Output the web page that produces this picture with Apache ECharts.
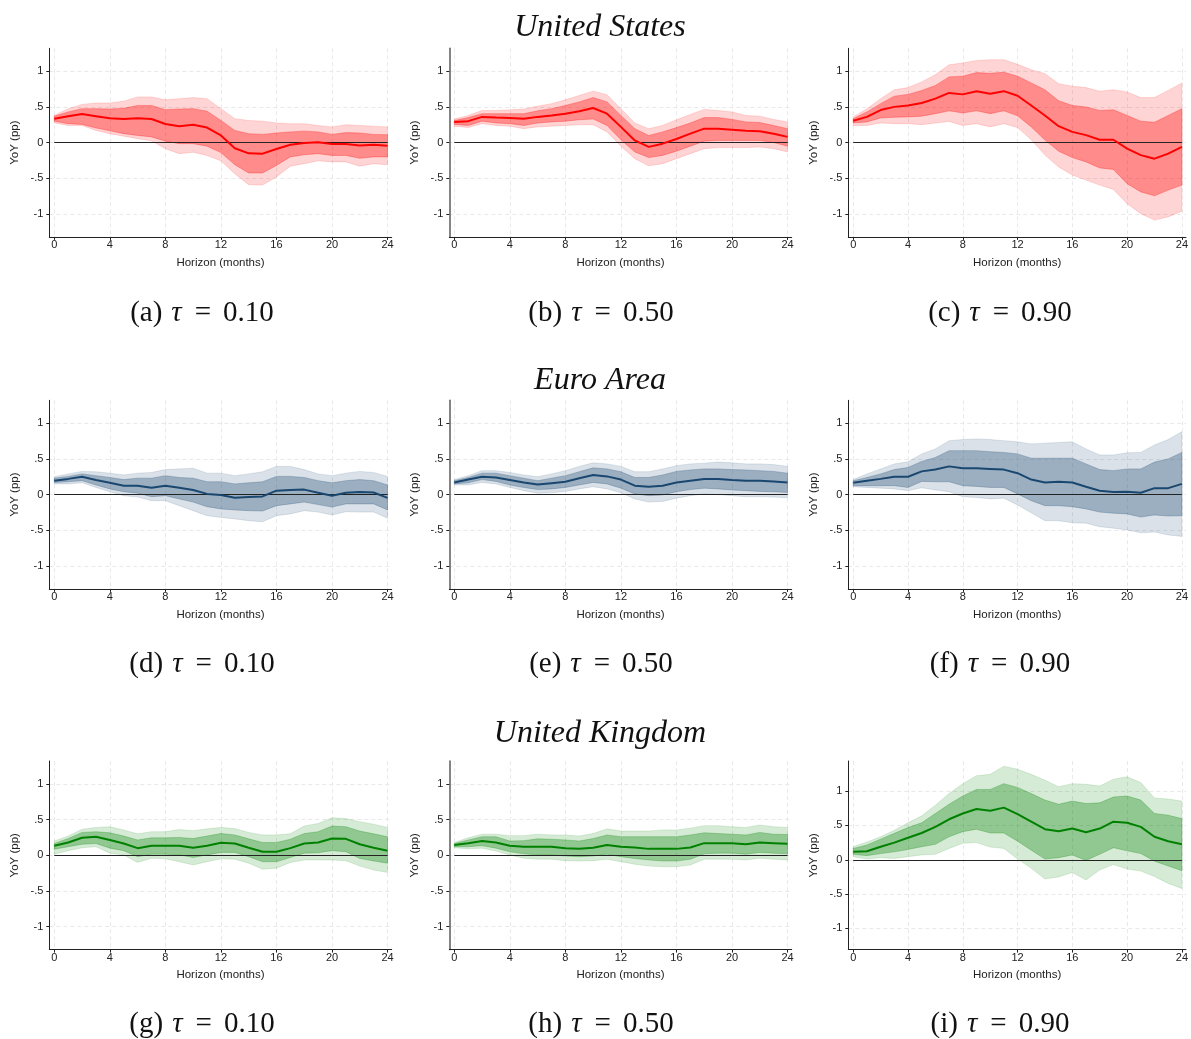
<!DOCTYPE html>
<html><head><meta charset="utf-8">
<script src="https://cdn.jsdelivr.net/npm/echarts@6/dist/echarts.min.js"></script>
<style>html,body{margin:0;padding:0;background:#fff}#c{width:1191px;height:1039px}</style>
</head><body><div id="c"></div>
<script>
// ---------- data ----------
const horizon = [0,1,2,3,4,5,6,7,8,9,10,11,12,13,14,15,16,17,18,19,20,21,22,23,24];
const xTicks = [0,4,8,12,16,20,24];
const yTicks = [-1,-0.5,0,0.5,1];
const yTickLabels = ['-1','-.5','0','.5','1'];
const countryTitles = ['United States','Euro Area','United Kingdom'];
const panelLetters = ['a','b','c','d','e','f','g','h','i'];
const quantileLabels = ['0.10','0.50','0.90'];

// United States
const us10_mean   = [0.335,0.37,0.40,0.37,0.34,0.33,0.34,0.33,0.26,0.23,0.25,0.21,0.10,-0.08,-0.15,-0.155,-0.09,-0.03,-0.005,0.005,-0.02,-0.02,-0.04,-0.03,-0.045];
const us10_innerHi= [0.37,0.43,0.475,0.475,0.47,0.48,0.52,0.52,0.46,0.47,0.475,0.44,0.31,0.17,0.125,0.115,0.135,0.15,0.16,0.15,0.115,0.14,0.135,0.115,0.11];
const us10_innerLo= [0.30,0.265,0.255,0.205,0.165,0.125,0.10,0.08,0.02,-0.015,-0.015,-0.05,-0.14,-0.31,-0.425,-0.425,-0.32,-0.20,-0.17,-0.155,-0.18,-0.18,-0.22,-0.20,-0.20];
const us10_outerHi= [0.38,0.475,0.535,0.555,0.555,0.58,0.64,0.64,0.60,0.615,0.63,0.615,0.475,0.335,0.31,0.30,0.275,0.265,0.265,0.24,0.22,0.25,0.24,0.23,0.22];
const us10_outerLo= [0.275,0.24,0.24,0.17,0.125,0.09,0.055,0.025,-0.085,-0.155,-0.135,-0.18,-0.255,-0.435,-0.59,-0.595,-0.48,-0.33,-0.295,-0.255,-0.27,-0.27,-0.33,-0.295,-0.31];

const us50_mean   = [0.29,0.30,0.36,0.35,0.345,0.335,0.36,0.38,0.405,0.44,0.485,0.405,0.22,0.03,-0.06,-0.015,0.05,0.125,0.195,0.195,0.18,0.165,0.16,0.125,0.08];
const us50_innerHi= [0.31,0.35,0.405,0.405,0.405,0.405,0.445,0.475,0.52,0.57,0.63,0.57,0.38,0.195,0.10,0.15,0.21,0.275,0.35,0.35,0.325,0.29,0.28,0.24,0.195];
const us50_innerLo= [0.255,0.24,0.30,0.275,0.265,0.24,0.275,0.29,0.30,0.32,0.33,0.24,0.04,-0.13,-0.21,-0.18,-0.12,-0.05,0.02,0.03,0.03,0.03,0.03,0.0,-0.05];
const us50_outerHi= [0.33,0.38,0.45,0.45,0.46,0.47,0.51,0.545,0.60,0.66,0.72,0.67,0.475,0.275,0.195,0.24,0.32,0.395,0.465,0.45,0.43,0.38,0.37,0.325,0.29];
const us50_outerLo= [0.23,0.21,0.265,0.24,0.23,0.195,0.22,0.23,0.24,0.25,0.25,0.15,-0.05,-0.225,-0.325,-0.295,-0.225,-0.155,-0.085,-0.07,-0.07,-0.07,-0.06,-0.085,-0.13];

const us90_mean   = [0.305,0.36,0.455,0.50,0.52,0.555,0.615,0.695,0.675,0.72,0.685,0.72,0.655,0.52,0.38,0.23,0.15,0.105,0.04,0.04,-0.085,-0.175,-0.225,-0.155,-0.06];
const us90_innerHi= [0.335,0.43,0.545,0.65,0.675,0.73,0.80,0.92,0.93,0.98,0.97,0.985,0.93,0.835,0.74,0.585,0.52,0.50,0.45,0.46,0.38,0.30,0.285,0.38,0.475];
const us90_innerLo= [0.275,0.29,0.345,0.355,0.36,0.37,0.405,0.445,0.415,0.445,0.405,0.445,0.375,0.22,0.035,-0.12,-0.21,-0.27,-0.355,-0.375,-0.575,-0.69,-0.745,-0.665,-0.595];
const us90_outerHi= [0.36,0.475,0.615,0.74,0.77,0.85,0.95,1.09,1.115,1.15,1.16,1.16,1.095,1.02,0.965,0.825,0.79,0.77,0.72,0.74,0.71,0.63,0.63,0.73,0.835];
const us90_outerLo= [0.24,0.24,0.275,0.265,0.265,0.25,0.275,0.295,0.24,0.265,0.22,0.265,0.21,0.04,-0.175,-0.34,-0.455,-0.525,-0.595,-0.655,-0.855,-0.995,-1.085,-1.04,-0.96];

// Euro Area
const ea10_mean   = [0.195,0.22,0.25,0.205,0.165,0.125,0.125,0.095,0.125,0.095,0.065,0.01,-0.005,-0.045,-0.035,-0.025,0.055,0.065,0.07,0.025,-0.015,0.025,0.035,0.03,-0.045];
const ea10_innerHi= [0.23,0.255,0.29,0.265,0.24,0.21,0.23,0.23,0.265,0.24,0.23,0.18,0.18,0.15,0.165,0.18,0.255,0.255,0.24,0.195,0.165,0.195,0.21,0.195,0.135];
const ea10_innerLo= [0.17,0.18,0.195,0.135,0.08,0.04,0.02,-0.03,-0.015,-0.06,-0.105,-0.17,-0.20,-0.215,-0.225,-0.23,-0.155,-0.13,-0.105,-0.14,-0.175,-0.13,-0.13,-0.13,-0.215];
const ea10_outerHi= [0.25,0.29,0.325,0.32,0.30,0.275,0.30,0.31,0.35,0.36,0.37,0.30,0.30,0.265,0.29,0.32,0.395,0.395,0.35,0.29,0.265,0.30,0.325,0.31,0.255];
const ea10_outerLo= [0.15,0.15,0.165,0.10,0.04,-0.015,-0.035,-0.085,-0.085,-0.155,-0.225,-0.295,-0.32,-0.34,-0.365,-0.38,-0.295,-0.27,-0.225,-0.245,-0.285,-0.24,-0.245,-0.245,-0.33];

const ea50_mean   = [0.17,0.21,0.25,0.24,0.205,0.17,0.14,0.16,0.18,0.23,0.275,0.255,0.21,0.125,0.11,0.125,0.17,0.195,0.22,0.22,0.205,0.195,0.195,0.185,0.17];
const ea50_innerHi= [0.195,0.24,0.30,0.30,0.265,0.23,0.195,0.23,0.265,0.32,0.375,0.36,0.32,0.24,0.24,0.275,0.325,0.345,0.36,0.36,0.35,0.345,0.335,0.325,0.30];
const ea50_innerLo= [0.15,0.165,0.21,0.185,0.135,0.10,0.07,0.08,0.10,0.135,0.17,0.15,0.09,0.01,-0.015,-0.005,0.04,0.07,0.09,0.08,0.065,0.055,0.045,0.04,0.03];
const ea50_outerHi= [0.21,0.265,0.335,0.335,0.31,0.275,0.25,0.29,0.335,0.395,0.445,0.43,0.395,0.32,0.32,0.36,0.405,0.43,0.44,0.455,0.445,0.43,0.43,0.42,0.395];
const ea50_outerLo= [0.135,0.135,0.17,0.15,0.10,0.055,0.02,0.025,0.045,0.08,0.11,0.08,0.025,-0.06,-0.105,-0.095,-0.05,-0.015,0.01,0.0,-0.015,-0.03,-0.03,-0.035,-0.045];

const ea90_mean   = [0.165,0.195,0.22,0.25,0.25,0.325,0.35,0.395,0.37,0.37,0.36,0.35,0.30,0.21,0.17,0.18,0.17,0.11,0.055,0.035,0.04,0.025,0.09,0.09,0.15];
const ea90_innerHi= [0.195,0.24,0.29,0.35,0.38,0.465,0.52,0.615,0.615,0.615,0.60,0.59,0.57,0.51,0.51,0.51,0.51,0.43,0.35,0.335,0.36,0.36,0.455,0.50,0.59];
const ea90_innerLo= [0.125,0.125,0.125,0.125,0.10,0.185,0.18,0.18,0.125,0.115,0.10,0.10,0.01,-0.085,-0.155,-0.155,-0.17,-0.20,-0.245,-0.26,-0.27,-0.315,-0.285,-0.30,-0.295];
const ea90_outerHi= [0.21,0.29,0.36,0.43,0.46,0.57,0.64,0.755,0.77,0.78,0.77,0.755,0.74,0.71,0.72,0.73,0.74,0.64,0.555,0.555,0.585,0.59,0.695,0.77,0.88];
const ea90_outerLo= [0.11,0.10,0.09,0.08,0.055,0.095,0.065,0.04,-0.03,-0.04,-0.06,-0.05,-0.145,-0.255,-0.365,-0.365,-0.395,-0.40,-0.45,-0.47,-0.495,-0.535,-0.525,-0.565,-0.585];

// United Kingdom
const uk10_mean   = [0.135,0.18,0.245,0.26,0.215,0.165,0.10,0.135,0.135,0.135,0.105,0.135,0.175,0.165,0.105,0.05,0.05,0.10,0.165,0.18,0.235,0.23,0.155,0.105,0.065];
const uk10_innerHi= [0.165,0.235,0.32,0.33,0.315,0.27,0.215,0.245,0.245,0.25,0.235,0.27,0.305,0.285,0.23,0.18,0.18,0.225,0.305,0.33,0.41,0.40,0.34,0.30,0.26];
const uk10_innerLo= [0.085,0.12,0.155,0.165,0.10,0.065,-0.02,0.015,0.015,0.005,-0.03,0.005,0.04,0.04,-0.02,-0.09,-0.09,-0.03,0.03,0.035,0.065,0.05,-0.045,-0.08,-0.11];
const uk10_outerHi= [0.20,0.27,0.365,0.39,0.40,0.355,0.30,0.33,0.33,0.36,0.345,0.37,0.39,0.375,0.32,0.285,0.285,0.30,0.41,0.445,0.525,0.515,0.47,0.435,0.39];
const uk10_outerLo= [0.015,0.065,0.105,0.12,0.03,0.005,-0.10,-0.04,-0.05,-0.09,-0.135,-0.09,-0.05,-0.055,-0.11,-0.195,-0.18,-0.10,-0.065,-0.065,-0.065,-0.075,-0.15,-0.205,-0.24];

const uk50_mean   = [0.145,0.17,0.20,0.18,0.135,0.12,0.12,0.12,0.10,0.09,0.105,0.145,0.12,0.11,0.09,0.09,0.09,0.11,0.17,0.17,0.17,0.155,0.18,0.17,0.16];
const uk50_innerHi= [0.165,0.215,0.26,0.26,0.20,0.205,0.23,0.225,0.215,0.20,0.235,0.285,0.26,0.26,0.26,0.26,0.26,0.285,0.315,0.305,0.295,0.285,0.32,0.295,0.29];
const uk50_innerLo= [0.12,0.12,0.135,0.10,0.05,0.02,0.005,0.005,-0.01,-0.02,-0.01,0.015,-0.02,-0.045,-0.065,-0.08,-0.08,-0.055,0.02,0.03,0.03,0.015,0.04,0.03,0.02];
const uk50_outerHi= [0.18,0.245,0.295,0.295,0.275,0.275,0.295,0.285,0.285,0.27,0.305,0.37,0.34,0.34,0.34,0.355,0.355,0.38,0.415,0.415,0.40,0.39,0.425,0.40,0.39];
const uk50_outerLo= [0.105,0.09,0.10,0.06,0.005,-0.04,-0.055,-0.055,-0.075,-0.08,-0.075,-0.055,-0.09,-0.125,-0.15,-0.16,-0.16,-0.135,-0.055,-0.055,-0.055,-0.065,-0.04,-0.055,-0.065];

const uk90_mean   = [0.115,0.125,0.19,0.25,0.32,0.39,0.48,0.59,0.675,0.74,0.715,0.76,0.665,0.555,0.445,0.415,0.455,0.40,0.455,0.555,0.54,0.48,0.335,0.27,0.225];
const uk90_innerHi= [0.165,0.215,0.30,0.385,0.47,0.54,0.675,0.81,0.93,1.025,1.025,1.11,1.055,0.965,0.87,0.81,0.855,0.82,0.83,0.915,0.93,0.87,0.675,0.65,0.60];
const uk90_innerLo= [0.08,0.06,0.09,0.115,0.15,0.19,0.225,0.335,0.41,0.445,0.39,0.39,0.27,0.14,0.01,0.03,0.07,-0.01,0.08,0.175,0.13,0.09,-0.02,-0.09,-0.16];
const uk90_outerHi= [0.19,0.26,0.335,0.43,0.54,0.64,0.795,0.965,1.11,1.225,1.245,1.365,1.32,1.245,1.16,1.065,1.11,1.10,1.075,1.175,1.21,1.125,0.90,0.885,0.855];
const uk90_outerLo= [0.045,0.01,0.03,0.02,0.045,0.07,0.08,0.165,0.24,0.25,0.185,0.165,0.01,-0.125,-0.28,-0.25,-0.185,-0.295,-0.15,-0.07,-0.135,-0.165,-0.245,-0.345,-0.42];

// ---------- layout / style ----------
const colors = [
  {line:'#ff0000', outer:'rgba(255,0,0,0.17)', inner:'rgba(255,0,0,0.34)'},
  {line:'#1a476f', outer:'rgba(26,71,111,0.16)', inner:'rgba(26,71,111,0.32)'},
  {line:'#008000', outer:'rgba(0,128,0,0.16)', inner:'rgba(0,128,0,0.32)'}
];
const panelData = [
  [us10_mean,us10_innerLo,us10_innerHi,us10_outerLo,us10_outerHi],
  [us50_mean,us50_innerLo,us50_innerHi,us50_outerLo,us50_outerHi],
  [us90_mean,us90_innerLo,us90_innerHi,us90_outerLo,us90_outerHi],
  [ea10_mean,ea10_innerLo,ea10_innerHi,ea10_outerLo,ea10_outerHi],
  [ea50_mean,ea50_innerLo,ea50_innerHi,ea50_outerLo,ea50_outerHi],
  [ea90_mean,ea90_innerLo,ea90_innerHi,ea90_outerLo,ea90_outerHi],
  [uk10_mean,uk10_innerLo,uk10_innerHi,uk10_outerLo,uk10_outerHi],
  [uk50_mean,uk50_innerLo,uk50_innerHi,uk50_outerLo,uk50_outerHi],
  [uk90_mean,uk90_innerLo,uk90_innerHi,uk90_outerLo,uk90_outerHi]
];
const colLeft = [49.3, 449.3, 848.3];
const rowTop = [48.3, 400.3, 761];
const plotW = 342.4, plotH = 188.6;
const titleY = [28, 381, 734];
const captionY = [313, 664, 1024];
const captionX = [202, 601, 1000];

const grid = [], xAxis = [], yAxis = [], series = [], graphic = [];

function bandRenderer(fill) {
  return function (params, api) {
    if (params.dataIndexInside !== 0) return null;
    const n = params.dataInsideLength;
    const top = [], bot = [];
    for (let j = 0; j < n; j++) {
      top.push(api.coord([api.value(0, j), api.value(2, j)]));
      bot.push(api.coord([api.value(0, j), api.value(1, j)]));
    }
    return {
      type: 'polygon',
      shape: { points: top.concat(bot.reverse()) },
      style: { fill: fill, stroke: fill, lineWidth: 0.8 }
    };
  };
}

const tickFont = 'Liberation Sans, Arial, sans-serif';
const capFont = 'Liberation Serif';
for (let p = 0; p < 9; p++) {
  const r = Math.floor(p / 3), c = p % 3;
  const [mean, iLo, iHi, oLo, oHi] = panelData[p];
  const col = colors[r];
  const ymin = (p === 8) ? -1.31 : -1.32;
  const ymax = (p === 8) ? 1.44 : 1.32;
  grid.push({ left: colLeft[c], top: rowTop[r], width: plotW, height: plotH, containLabel: false });
  xAxis.push({
    gridIndex: p, type: 'value', min: -0.36, max: 24.3,
    name: 'Horizon (months)', nameLocation: 'middle', nameGap: 19.5,
    nameTextStyle: { fontFamily: tickFont, fontSize: 11.5, color: '#222' },
    axisLine: { onZero: false, lineStyle: { color: '#222', width: 1 } },
    axisTick: { show: true, length: 3, customValues: xTicks, lineStyle: { color: '#222' } },
    axisLabel: { customValues: xTicks, margin: 3, fontFamily: tickFont, fontSize: 11, color: '#222' },
    splitLine: { show: true, lineStyle: { color: '#e9e9e9', type: [4, 3], width: 1 } }
  });
  yAxis.push({
    gridIndex: p, type: 'value', min: ymin, max: ymax,
    name: 'YoY (pp)', nameLocation: 'middle', nameGap: 28,
    nameTextStyle: { fontFamily: tickFont, fontSize: 11.5, color: '#222' },
    axisLine: { onZero: false, lineStyle: { color: c === 1 ? '#666' : '#222', width: c === 1 ? 1.6 : 1 } },
    axisTick: { show: true, length: 3, customValues: yTicks, lineStyle: { color: '#222' } },
    axisLabel: { customValues: yTicks, margin: 6, fontFamily: tickFont, fontSize: 11, color: '#222',
      formatter: v => { const k = yTicks.findIndex(t => Math.abs(t - v) < 1e-9); return k >= 0 ? yTickLabels[k] : String(v); } },
    splitLine: { show: true, lineStyle: { color: '#e9e9e9', type: [4, 3], width: 1 } }
  });
  series.push({
    type: 'custom', xAxisIndex: p, yAxisIndex: p, z: 1, silent: true,
    renderItem: bandRenderer(col.outer), encode: { x: 0, y: [1, 2] },
    data: horizon.map((h, i) => [h, oLo[i], oHi[i]])
  });
  series.push({
    type: 'custom', xAxisIndex: p, yAxisIndex: p, z: 2, silent: true,
    renderItem: bandRenderer(col.inner), encode: { x: 0, y: [1, 2] },
    data: horizon.map((h, i) => [h, iLo[i], iHi[i]])
  });
  series.push({
    type: 'line', xAxisIndex: p, yAxisIndex: p, z: 4, silent: true,
    showSymbol: false, symbol: 'none',
    lineStyle: { color: col.line, width: 2 },
    data: horizon.map((h, i) => [h, mean[i]]),
    markLine: {
      silent: true, symbol: 'none', z: 3, label: { show: false },
      lineStyle: { color: '#222', width: 1, type: 'solid' },
      data: [[{ coord: [horizon[0], 0] }, { coord: [horizon[horizon.length - 1], 0] }]]
    }
  });
  graphic.push({
    type: 'text', x: captionX[c], y: captionY[r],
    style: {
      text: '{a|(' + panelLetters[p] + ')}{t|τ}{e|=}{n|' + quantileLabels[c] + '}',
      textAlign: 'center', textVerticalAlign: 'middle',
      rich: {
        a: { fontFamily: capFont, fontSize: 29, fill: '#111' },
        t: { fontFamily: capFont, fontSize: 29, fontStyle: 'italic', fill: '#111', padding: [0, 0, 0, 9] },
        e: { fontFamily: capFont, fontSize: 29, fill: '#111', padding: [0, 3, 0, 13] },
        n: { fontFamily: capFont, fontSize: 29, fill: '#111', padding: [0, 0, 0, 9] }
      }
    }
  });
}
for (let r = 0; r < 3; r++) {
  graphic.push({
    type: 'text', x: 600, y: titleY[r],
    style: {
      text: countryTitles[r], textAlign: 'center', textVerticalAlign: 'middle',
      font: 'italic 32px "Liberation Serif"', fill: '#111'
    }
  });
}

const chart = echarts.init(document.getElementById('c'), null, { renderer: 'canvas' });
chart.setOption({
  animation: false,
  backgroundColor: '#ffffff',
  grid, xAxis, yAxis, series, graphic
});
</script>
</body></html>
